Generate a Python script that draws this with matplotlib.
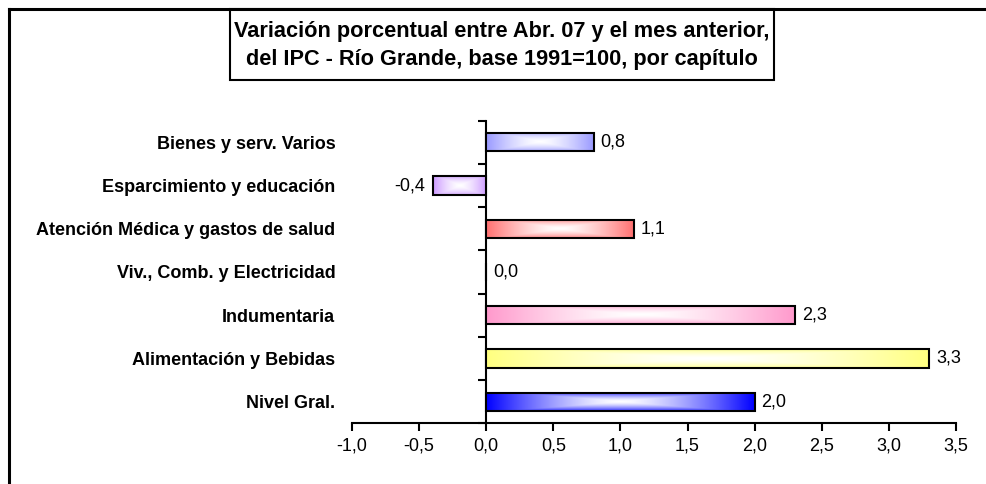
import numpy as np
import matplotlib
matplotlib.use("Agg")
import matplotlib.pyplot as plt
from matplotlib.colors import to_rgb
from matplotlib.lines import Line2D
from matplotlib.patches import Rectangle

plt.rcParams['font.family'] = ['Liberation Sans', 'DejaVu Sans']

categories = ["Nivel Gral.", "Alimentación y Bebidas", "Indumentaria",
              "Viv., Comb. y Electricidad", "Atención Médica y gastos de salud",
              "Esparcimiento y educación", "Bienes y serv. Varios"]
values = [2.0, 3.3, 2.3, 0.0, 1.1, -0.4, 0.8]
colors = ["#0000FF", "#FFFF80", "#FF99CC", "#FFFFFF", "#FF7070", "#CC99FF", "#9999FF"]
xticks = [-1.0, -0.5, 0.0, 0.5, 1.0, 1.5, 2.0, 2.5, 3.0, 3.5]
title = "Variación porcentual entre Abr. 07 y el mes anterior,\ndel IPC - Río Grande, base 1991=100, por capítulo"

W, H = 986, 484
fig = plt.figure(figsize=(W / 100, H / 100), dpi=100)
ax = fig.add_axes([352 / W, 1 - 423.3 / H, (956 - 352) / W, (423.3 - 120.7) / H])

y = np.arange(len(categories))
bars = ax.barh(y, values, height=0.42, color='none', edgecolor='black', linewidth=1.5, zorder=3)

# gradient fill for each bar
u = np.linspace(-1, 1, 200)
v = np.linspace(-1, 1, 40)
U, V = np.meshgrid(u, v)
s = np.clip(np.maximum(np.abs(U) ** 1.4, np.abs(V) ** 1.5 * 0.8), 0, 1)
for b, c in zip(bars, colors):
    w = b.get_width()
    if w == 0:
        continue
    rgb = np.array(to_rgb(c))
    img = (1 - s[..., None]) * 1.0 + s[..., None] * rgb[None, None, :]
    x0, y0, hh = b.get_x(), b.get_y(), b.get_height()
    xa, xb = (x0, x0 + w) if w > 0 else (x0 + w, x0)
    ax.imshow(img, extent=[xa, xb, y0, y0 + hh], aspect='auto', zorder=2, interpolation='bilinear')

ax.set_xlim(-1.0, 3.5)
ax.set_ylim(-0.5, len(categories) - 0.5)

fs = 13

# value labels
for yi, val in zip(y, values):
    lab = f"{val:.1f}".replace('.', ',')
    if val < 0:
        ax.annotate(lab, (val, yi), xytext=(-5, 0), textcoords='offset points',
                    ha='right', va='center', fontsize=fs)
    else:
        ax.annotate(lab, (val, yi), xytext=(5, 0), textcoords='offset points',
                    ha='left', va='center', fontsize=fs)

# spines
for sp in ['top', 'right', 'left']:
    ax.spines[sp].set_visible(False)
ax.spines['bottom'].set_linewidth(1.5)

ax.set_xticks(xticks)
ax.set_xticklabels([f"{t:.1f}".replace('.', ',') for t in xticks], fontsize=fs)
ax.tick_params(axis='x', direction='out', length=6, width=1.5, pad=4)

ax.set_yticks(y)
ax.set_yticklabels(categories, fontsize=fs, fontweight='bold')
ax.tick_params(axis='y', length=0, pad=12)

# y axis at zero
sec = ax.secondary_yaxis(1.0 / 4.5)
sec.spines['left'].set_linewidth(1.5)
sec.set_yticks(np.arange(-0.5, len(categories), 1.0))
sec.set_yticklabels([])
sec.tick_params(axis='y', direction='out', length=6, width=1.5)

# title box
fig.text(502 / W, 1 - 45.5 / H, title, ha='center', va='center', fontsize=15.7,
         fontweight='bold', linespacing=1.45)
fig.add_artist(Rectangle((230 / W, 1 - 80 / H), (774 - 230) / W, (80 - 9) / H,
                         transform=fig.transFigure, fill=False, edgecolor='black', linewidth=1.5))

# outer border (left and top visible)
fig.add_artist(Line2D([8.5 / W, 8.5 / W], [0, 1 - 9 / H], transform=fig.transFigure, color='black', linewidth=2.2))
fig.add_artist(Line2D([8.5 / W, 1], [1 - 9 / H, 1 - 9 / H], transform=fig.transFigure, color='black', linewidth=2.2))

fig.savefig("out.png", dpi=100)
